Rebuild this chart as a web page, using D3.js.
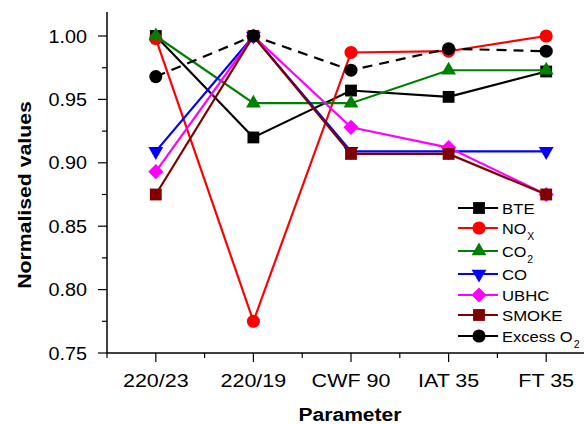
<!DOCTYPE html>
<html>
<head>
<meta charset="utf-8">
<script src="https://cdn.jsdelivr.net/npm/d3@7"></script>
<style>
  body { margin: 0; background: #fff; }
  svg { font-family: "Liberation Sans", Arial, sans-serif; }
</style>
</head>
<body>
<svg id="chart"></svg>
<script>
const categories = ["220/23", "220/19", "CWF 90", "IAT 35", "FT 35"];
const yTicks = [0.75, 0.80, 0.85, 0.90, 0.95, 1.00];

const bte    = [1.000, 0.920, 0.957, 0.952, 0.972];
const nox    = [0.998, 0.775, 0.987, 0.988, 1.000];
const co2    = [1.000, 0.947, 0.947, 0.973, 0.973];
const co     = [0.909, 1.000, 0.909, 0.909, 0.909];
const ubhc   = [0.893, 1.000, 0.928, 0.912, 0.875];
const smoke  = [0.875, 1.000, 0.907, 0.907, 0.875];
const excessO2 = [0.968, 1.000, 0.973, 0.990, 0.988];

const series = [
  { name: "BTE", sub: "", values: bte, color: "#000000", symbol: d3.symbolSquare, size: 140, rot: 0, dash: null },
  { name: "NO", sub: "X", values: nox, color: "#ff0000", symbol: d3.symbolCircle, size: 135, rot: 0, dash: null },
  { name: "CO", sub: "2", values: co2, color: "#008000", symbol: d3.symbolTriangle, size: 95, rot: 0, dash: null },
  { name: "CO", sub: "", values: co, color: "#0000ff", symbol: d3.symbolTriangle, size: 95, rot: 180, dash: null },
  { name: "UBHC", sub: "", values: ubhc, color: "#ff00ff", symbol: d3.symbolSquare, size: 115, rot: 45, dash: null },
  { name: "SMOKE", sub: "", values: smoke, color: "#800000", symbol: d3.symbolSquare, size: 140, rot: 0, dash: null },
  { name: "Excess O", sub: "2", values: excessO2, color: "#000000", symbol: d3.symbolCircle, size: 135, rot: 0, dash: "10,7" }
];

const width = 584, height = 424;
const svg = d3.select("#chart").attr("width", width).attr("height", height);

// the source font is a bit wider than Liberation Sans
function stretch(sel, k) {
  sel.each(function () {
    const w = this.getComputedTextLength();
    d3.select(this).attr("textLength", w * k).attr("lengthAdjust", "spacingAndGlyphs");
  });
}

// category i sits at i+1, axis runs from 0.5
const x = d3.scaleLinear().domain([0.5, 5.5]).range([107, 595]);
const y = d3.scaleLinear().domain([0.75, 1.0]).range([353, 36]);

// y axis
const yAxisG = svg.append("g").attr("transform", "translate(107,0)");
yAxisG.append("line").attr("y1", 12).attr("y2", 353).attr("stroke", "#000").attr("stroke-width", 1.5);
const yMinor = d3.range(0.775, 1.0, 0.05);
yAxisG.selectAll(".minor").data(yMinor).join("line")
  .attr("x1", -5).attr("x2", 0)
  .attr("y1", d => y(d)).attr("y2", d => y(d))
  .attr("stroke", "#000").attr("stroke-width", 1.2);
yAxisG.selectAll(".major").data(yTicks).join("line")
  .attr("x1", -9).attr("x2", 0)
  .attr("y1", d => y(d)).attr("y2", d => y(d))
  .attr("stroke", "#000").attr("stroke-width", 1.2);
yAxisG.selectAll(".lbl").data(yTicks).join("text")
  .attr("x", -20).attr("y", d => y(d)).attr("dy", "0.37em")
  .attr("text-anchor", "end").attr("font-size", 18)
  .text(d3.format(".2f"))
  .call(stretch, 1.1);

// x axis
const xAxisG = svg.append("g").attr("transform", "translate(0,353)");
xAxisG.append("line").attr("x1", 107).attr("x2", 595).attr("stroke", "#000").attr("stroke-width", 1.5);
xAxisG.selectAll(".minor").data(d3.range(0.5, 5.5, 1)).join("line")
  .attr("x1", d => x(d)).attr("x2", d => x(d))
  .attr("y1", 0).attr("y2", 5)
  .attr("stroke", "#000").attr("stroke-width", 1.2);
xAxisG.selectAll(".major").data(categories).join("line")
  .attr("x1", (d, i) => x(i + 1)).attr("x2", (d, i) => x(i + 1))
  .attr("y1", 0).attr("y2", 9)
  .attr("stroke", "#000").attr("stroke-width", 1.2);
xAxisG.selectAll(".lbl").data(categories).join("text")
  .attr("x", (d, i) => x(i + 1)).attr("y", 34)
  .attr("text-anchor", "middle").attr("font-size", 19)
  .text(d => d)
  .call(stretch, 1.13);

svg.append("text").attr("x", 350).attr("y", 421)
  .attr("text-anchor", "middle").attr("font-size", 18).attr("font-weight", "bold")
  .text("Parameter")
  .call(stretch, 1.17);
svg.append("text").attr("transform", "translate(31,195) rotate(-90)")
  .attr("text-anchor", "middle").attr("font-size", 18).attr("font-weight", "bold")
  .text("Normalised values")
  .call(stretch, 1.18);

// series
const line = d3.line().x((d, i) => x(i + 1)).y(d => y(d));
series.forEach(s => {
  const g = svg.append("g");
  g.append("path").datum(s.values)
    .attr("d", line).attr("fill", "none")
    .attr("stroke", s.color).attr("stroke-width", 2.2)
    .attr("stroke-dasharray", s.dash);
  g.selectAll("path.pt").data(s.values).join("path")
    .attr("class", "pt")
    .attr("d", d3.symbol().type(s.symbol).size(s.size))
    .attr("transform", (d, i) => `translate(${x(i + 1)},${y(d)}) rotate(${s.rot})`)
    .attr("fill", s.color);
});

// legend
const legendY = [208, 228, 251, 274, 295, 315, 336];
const legend = svg.append("g");
series.forEach((s, i) => {
  const g = legend.append("g").attr("transform", `translate(458,${legendY[i]})`);
  g.append("line").attr("x1", 0).attr("x2", 40).attr("stroke", s.color).attr("stroke-width", 2);
  g.append("path").attr("d", d3.symbol().type(s.symbol).size(s.size))
    .attr("transform", `translate(21,0) rotate(${s.rot})`)
    .attr("fill", s.color);
  const t = g.append("text").attr("x", 44).attr("dy", "0.36em").attr("font-size", 15.5);
  t.append("tspan").text(s.name);
  if (s.sub) t.append("tspan").attr("dy", 6).attr("dx", 1).attr("font-size", 10).text(s.sub);
  t.call(stretch, 1.08);
});
</script>
</body>
</html>
